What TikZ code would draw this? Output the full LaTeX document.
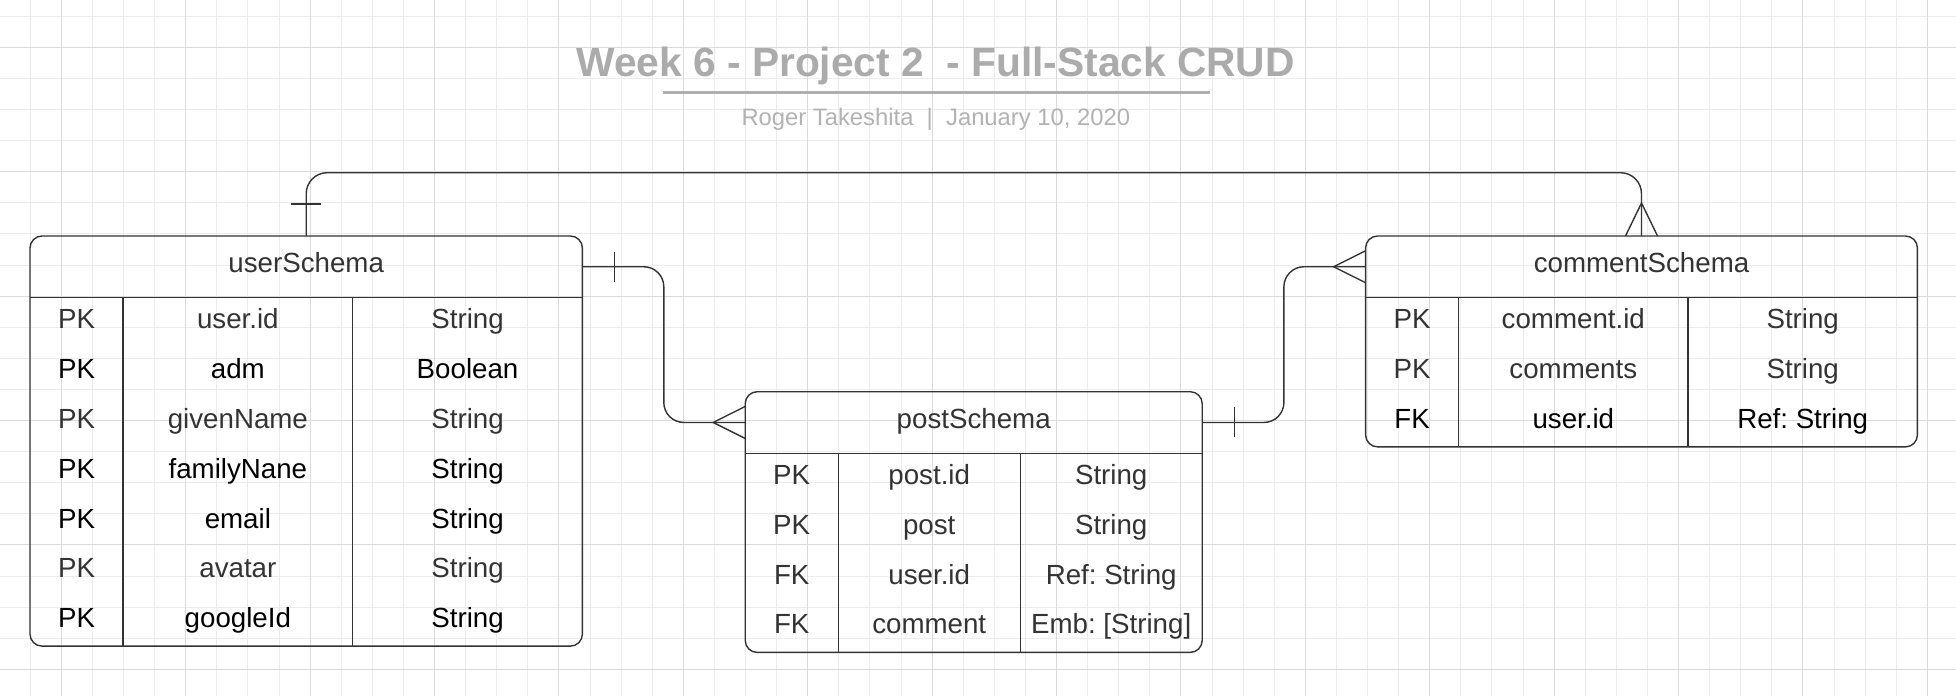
\documentclass[tikz,border=0pt]{standalone}
\usepackage{fontspec}
\setmainfont{Liberation Sans}
\usetikzlibrary{calc}
\frenchspacing

\definecolor{linegray}{rgb}{0.2,0.2,0.2}
\definecolor{textgray}{rgb}{0.2,0.2,0.2}
\definecolor{titlegray}{rgb}{0.67,0.67,0.67}
\definecolor{subgray}{rgb}{0.70,0.70,0.70}
\definecolor{gridminor}{rgb}{0.925,0.925,0.925}
\definecolor{gridmajor}{rgb}{0.86,0.86,0.86}

\begin{document}
\begin{tikzpicture}[x=1pt,y=-1pt,line width=1.4pt,draw=linegray,
	kopf/.style={rectangle,inner sep=0pt,outer sep=0pt,minimum height=61.5pt},
	feld/.style={anchor=base,inner sep=0pt,text=textgray,font=\fontsize{27.7}{33}\selectfont}]
\useasboundingbox (0,0) rectangle (1956,696);
\fill[white] (0,0) rectangle (1956,696);

\begin{scope}[line width=1pt]
\foreach \i in {0,...,62}{
	\draw[gridminor] ({30.2+31.1*\i},0) -- ({30.2+31.1*\i},696);
}
\foreach \j in {0,...,22}{
	\draw[gridminor] (0,{16.2+31.1*\j}) -- (1956,{16.2+31.1*\j});
}
\foreach \i in {0,...,15}{
	\draw[gridmajor] ({61.3+124.4*\i},0) -- ({61.3+124.4*\i},696);
}
\foreach \j in {0,...,5}{
	\draw[gridmajor] (0,{47.3+124.4*\j}) -- (1956,{47.3+124.4*\j});
}
\end{scope}

\node[anchor=base,text=titlegray,font=\bfseries\fontsize{40.7}{48}\selectfont]
	(titel) at (935.6,76.7) {Week 6 - Project 2\ \ - Full-Stack CRUD};
\coordinate (s1) at (663.4,92.7);
\coordinate (s2) at (1209.7,92.7);
\draw[titlegray!95,line width=3pt] (s1) -- (s2);
\node[anchor=base,text=subgray,font=\fontsize{23.8}{28}\selectfont]
	(autor) at (935.8,125) {Roger Takeshita\ \ |\ \ January 10, 2020};

\def\tabelle#1#2#3#4#5#6{
	\node[kopf,minimum width={93+2*#4},anchor=north west] (#1) at (#2,#3) {};
	\node[feld] (#1Titel) at ($(#1.north)+(0,36.7)$) {#6};
	\draw[rounded corners=12] (#1.north west) rectangle ++({93+2*#4},{61.5+49.8*#5});
	\draw (#1.south west) -- (#1.south east);
	\draw ($(#1.south west)+(93,0)$) -- ++(0,{49.8*#5});
	\draw ($(#1.south west)+({93+#4},0)$) -- ++(0,{49.8*#5});
}

\tabelle{user}{30}{236}{229.7}{7}{userSchema}
\tabelle{post}{745.2}{391.7}{182}{4}{postSchema}
\tabelle{comment}{1365.6}{236}{229.4}{3}{commentSchema}

\foreach \k/\f/\t/\c [count=\i from 0] in {PK/user.id/String/textgray,
	PK/adm/Boolean/black,PK/givenName/String/textgray,PK/familyNane/String/black,
	PK/email/String/black,PK/avatar/String/textgray,PK/googleId/String/black}{
	\node[feld,text=\c] (userK\i) at ($(user.south west)+(46.5,{31.3+49.8*\i})$) {\k};
	\node[feld,text=\c] (userF\i) at ($(user.south west)+({93+229.7/2},{31.3+49.8*\i})$) {\f};
	\node[feld,text=\c] (userT\i) at ($(user.south west)+({93+229.7*1.5},{31.3+49.8*\i})$) {\t};
}

\foreach \k/\f/\t [count=\i from 0] in {PK/post.id/String,PK/post/String,
	FK/user.id/{Ref: String},FK/comment/{Emb: [String]}}{
	\node[feld] (postK\i) at ($(post.south west)+(46.5,{31.3+49.8*\i})$) {\k};
	\node[feld] (postF\i) at ($(post.south west)+({93+91},{31.3+49.8*\i})$) {\f};
	\node[feld] (postT\i) at ($(post.south west)+({93+182+91},{31.3+49.8*\i})$) {\t};
}

\foreach \k/\f/\t/\c [count=\i from 0] in {PK/comment.id/String/textgray,
	PK/comments/String/textgray,FK/user.id/{Ref: String}/black}{
	\node[feld,text=\c] (commentK\i) at ($(comment.south west)+(46.5,{31.3+49.8*\i})$) {\k};
	\node[feld,text=\c] (commentF\i) at ($(comment.south west)+({93+229.4/2},{31.3+49.8*\i})$) {\f};
	\node[feld,text=\c] (commentT\i) at ($(comment.south west)+({93+229.4*1.5},{31.3+49.8*\i})$) {\t};
}

\coordinate (oben) at (0,172.7);
\draw[rounded corners=21] (user.north) -- (user.north |- oben) -| (comment.north);
\draw ([xshift=-15pt,yshift=32pt]user.north) -- ++(30,0);
\draw ([xshift=-16pt]comment.north) -- ([yshift=33pt]comment.north)
	-- ([xshift=16pt]comment.north);

\draw[rounded corners=20] (user.east) -| ($(user.east)!.5!(post.west)$) |- (post.west);
\draw ([xshift=32pt,yshift=15pt]user.east) -- ++(0,30);
\draw ([yshift=16pt]post.west) -- ([xshift=-32pt]post.west)
	-- ([yshift=-16pt]post.west);

\draw[rounded corners=20] (post.east) -| ($(post.east)!.5!(comment.west)$) |- (comment.west);
\draw ([xshift=32pt,yshift=15pt]post.east) -- ++(0,30);
\draw ([yshift=16pt]comment.west) -- ([xshift=-32pt]comment.west)
	-- ([yshift=-16pt]comment.west);

\end{tikzpicture}
\end{document}
